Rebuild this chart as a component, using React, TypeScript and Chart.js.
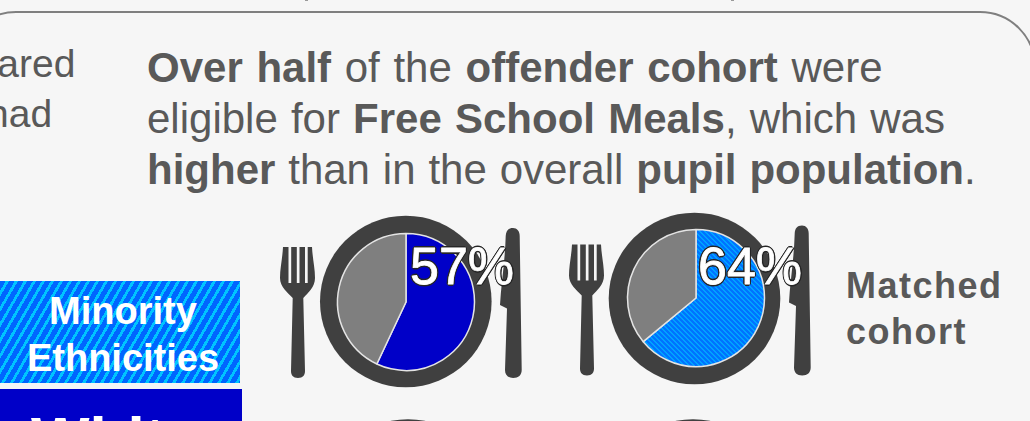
import React, { useEffect, useRef } from "react";
import { Chart, registerables } from "chart.js";

Chart.register(...registerables);

const sliceLabels = ["Eligible for Free School Meals", "Not eligible"];
const whiteCohortValues = [57, 43];
const minorityCohortValues = [64, 36];
const cohortLabel = ["Matched", "cohort"];
const legendMinority = ["Minority", "Ethnicities"];
const legendWhite = "White";

const FONT = '"Liberation Sans", Arial, sans-serif';
const BG = "#f6f6f6";
const TEXT = "#595959";
const DARK = "#404040";

function stripeTile(ctx: CanvasRenderingContext2D) {
  const n = 5;
  const c = document.createElement("canvas");
  c.width = n;
  c.height = n;
  const t = c.getContext("2d")!;
  for (let y = 0; y < n; y++) {
    for (let x = 0; x < n; x++) {
      t.fillStyle = (x - y + n) % n < 2 ? "#00a2ff" : "#0073ff";
      t.fillRect(x, y, 1, 1);
    }
  }
  return ctx.createPattern(c, "repeat")!;
}

function Pie({ values, hatch, cx, cy }: { values: number[]; hatch: boolean; cx: number; cy: number }) {
  const ref = useRef<HTMLCanvasElement>(null);
  useEffect(() => {
    const canvas = ref.current!;
    const ctx = canvas.getContext("2d")!;
    const chart = new Chart(canvas, {
      type: "pie",
      data: {
        labels: sliceLabels,
        datasets: [
          {
            data: values,
            backgroundColor: [hatch ? stripeTile(ctx) : "#0000c8", "#7f7f7f"],
            borderColor: "#e4e4e4",
            borderWidth: 1.5,
            radius: 68.5,
          },
        ],
      },
      options: {
        animation: false,
        responsive: false,
        maintainAspectRatio: false,
        layout: { padding: 0 },
        plugins: { legend: { display: false }, tooltip: { enabled: false } },
      },
    });
    return () => chart.destroy();
  }, []);
  return (
    <canvas
      ref={ref}
      width={160}
      height={160}
      style={{ position: "absolute", left: cx - 80, top: cy - 80, width: 160, height: 160 }}
    />
  );
}

function T({ x, y, size, bold, color, spacing, word, children }: any) {
  // y is the baseline
  const lh = Math.round(size * 1.2);
  const top = y - ((lh - size * 1.117) / 2 + size * 0.905);
  return (
    <div
      style={{
        position: "absolute",
        left: x,
        top,
        font: `${bold ? "bold " : ""}${size}px/${lh}px ${FONT}`,
        color: color ?? TEXT,
        letterSpacing: spacing ?? 0,
        wordSpacing: word ?? 0,
        whiteSpace: "pre",
      }}
    >
      {children}
    </div>
  );
}

function Cutlery({ dx, dy }: { dx: number; dy: number }) {
  return (
    <g transform={`translate(${dx} ${dy})`} fill={DARK}>
      <path d="M283 247 C282.5 258 280 268 280 278 C280 287 288 293 292.7 298 L291 371 C291 375 293 378 298 378 C303 378 305 375 305 371 L303.3 298 C308 293 315 287 315 278 C315 268 312.5 258 312 247 L307.7 247 L307.7 283 L305 283 L305 247 L299.5 247 L299.5 283 L296.8 283 L296.8 247 L291.2 247 L291.2 283 L288.5 283 L288.5 247 Z" />
      <path d="M513 228 C508 228 506 231 505.7 236 C505 262 501 285 500 305 L507 308.5 L505 370 C505 375 508 378 513.2 378 C518.5 378 521.7 375 521.7 370 L519.7 236 C519.7 231 517 228 513 228 Z" />
    </g>
  );
}

const outlineShadow = [
  "1.7px 0 0 #262626",
  "-1.7px 0 0 #262626",
  "0 1.7px 0 #262626",
  "0 -1.7px 0 #262626",
  "1.2px 1.2px 0 #262626",
  "-1.2px 1.2px 0 #262626",
  "1.2px -1.2px 0 #262626",
  "-1.2px -1.2px 0 #262626",
].join(",");

function Percent({ x, y, value }: { x: number; y: number; value: number }) {
  const size = 52;
  return (
    <div
      style={{
        position: "absolute",
        left: x,
        top: y - 48,
        font: `${size}px/60px ${FONT}`,
        color: "#ffffff",
        WebkitTextStroke: "0.8px #ffffff",
        textShadow: outlineShadow,
        whiteSpace: "pre",
      }}
    >
      {value}%
    </div>
  );
}

export default function App() {
  useEffect(() => {
    document.body.style.margin = "0";
    document.body.style.background = BG;
  }, []);
  return (
    <div style={{ position: "fixed", left: 0, top: 0, width: 1030, height: 421, overflow: "hidden", background: BG }}>
      <div
        style={{
          position: "absolute",
          left: -40,
          top: 11,
          width: 1076,
          height: 600,
          boxSizing: "border-box",
          border: "2px solid #7f7f7f",
          borderRadius: 56,
        }}
      />
      <div style={{ position: "absolute", left: 305, top: 0, width: 3, height: 1, background: "#9a9a9a" }} />
      <div style={{ position: "absolute", left: 731, top: 0, width: 3, height: 1, background: "#9a9a9a" }} />

      <T x={-98} y={77} size={39}>compared</T>
      <T x={-13} y={127} size={39}>had</T>

      <T x={147} y={82.5} size={42} word={2}>
        <b>Over half</b> of the <b>offender cohort</b> were
      </T>
      <T x={147} y={133.5} size={42} word={1.5}>
        eligible for <b>Free School Meals</b>, which was
      </T>
      <T x={147} y={185} size={42} word={1.2}>
        <b>higher</b> than in the overall <b>pupil population</b>.
      </T>

      <div
        style={{
          position: "absolute",
          left: 0,
          top: 281,
          width: 240,
          height: 102,
          background: "repeating-linear-gradient(120deg,#0066ff 0 5px,#00c4ff 5px 7.8px)",
        }}
      />
      <div style={{ position: "absolute", left: 0, top: 389, width: 242, height: 40, background: "#0000c8" }} />
      <div style={{ position: "absolute", left: 0, top: 281, width: 246, textAlign: "center" }}>
        <div style={{ font: `bold 38px/46px ${FONT}`, color: "#fff", position: "absolute", top: 7, left: 0, width: 246 }}>
          {legendMinority[0]}
        </div>
        <div style={{ font: `bold 38px/46px ${FONT}`, color: "#fff", position: "absolute", top: 54, left: 0, width: 246 }}>
          {legendMinority[1]}
        </div>
      </div>
      <T x={31} y={460} size={62} bold color="#fff">{legendWhite}</T>

      <svg width={1030} height={421} style={{ position: "absolute", left: 0, top: 0 }}>
        <circle cx={405.8} cy={301.5} r={85.8} fill={DARK} />
        <circle cx={694.5} cy={298.5} r={85.8} fill={DARK} />
        <circle cx={408} cy={505} r={85.8} fill={DARK} />
        <circle cx={693} cy={505} r={85.8} fill={DARK} />
        <Cutlery dx={0} dy={0} />
        <Cutlery dx={289} dy={-2.6} />
      </svg>

      <Pie values={whiteCohortValues} hatch={false} cx={405.5} cy={302} />
      <Pie values={minorityCohortValues} hatch={true} cx={696} cy={297.5} />

      <Percent x={410} y={284} value={whiteCohortValues[0]} />
      <Percent x={698} y={284} value={minorityCohortValues[0]} />

      <T x={846} y={298} size={36} bold spacing={1.5}>{cohortLabel[0]}</T>
      <T x={846} y={344} size={36} bold spacing={1.5}>{cohortLabel[1]}</T>
    </div>
  );
}
